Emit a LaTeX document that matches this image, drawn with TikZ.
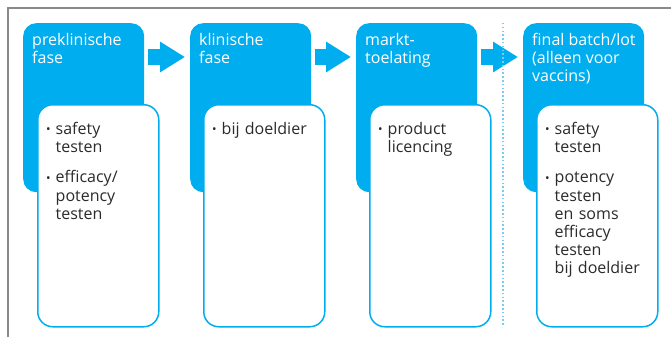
\documentclass[tikz,border=0pt]{standalone}
\usepackage{xcolor}
\usepackage{fontspec}
\setmainfont{Open Sans}
\usepackage{tikz}
\usetikzlibrary{arrows.meta}
\definecolor{rijksblue}{HTML}{00AEEF}
\definecolor{dotblue}{HTML}{7FCBEF}
\definecolor{framegray}{HTML}{8A8A8A}
\definecolor{inktext}{HTML}{2B2B2B}
\newcommand{\pnt}[1]{\par\hangindent=9.5pt\hangafter=1\noindent\makebox[9.5pt][l]{\raisebox{0.5pt}{\fontsize{12}{12}\selectfont\textbullet}}#1\par}

\begin{document}
\begin{tikzpicture}[x=1pt, y=-1pt]
\tikzstyle{phase}=[rectangle, fill=rijksblue, rounded corners=13pt, minimum width=121pt, minimum height=169pt, anchor=north west, inner sep=0pt]
\tikzstyle{card}=[rectangle, draw=rijksblue, fill=white, line width=1.5pt, rounded corners=15pt, minimum width=121pt, minimum height=222pt, anchor=north west, inner sep=0pt]
\tikzstyle{title}=[anchor=north west, inner sep=0pt, align=left, text=white, font=\fontsize{16}{18}\selectfont]
\tikzstyle{items}=[anchor=north west, inner sep=0pt, text width=108pt, align=left, text=inktext, font=\fontsize{16}{18.2}\selectfont]
\tikzstyle{flow}=[draw=rijksblue, line width=15pt, -{Triangle[length=25pt, width=29pt]}]
\useasboundingbox (0,0) rectangle (671,337);
% frame
\draw[framegray, line width=1.3pt] (8,337) -- (8,8) -- (671,8);
% phases
\node[phase] (b1) at (23,23) {};
\node[phase] (b2) at (190,23) {};
\node[phase] (b3) at (356,23) {};
\node[phase] (b4) at (523,23) {};
\node[title] (h1) at ([shift={(9pt,-10pt)}]b1.north west) {preklinische\\fase};
\node[title] (h2) at ([shift={(9pt,-10pt)}]b2.north west) {klinische\\fase};
\node[title] (h3) at ([shift={(9pt,-10pt)}]b3.north west) {markt-\\toelating};
\node[title] (h4) at ([shift={(9pt,-10pt)}]b4.north west) {final batch/lot\\(alleen voor\\vaccins)};
\node[card] (w1) at (37,104) {};
\node[card] (w2) at (203,104) {};
\node[card] (w3) at (369,104) {};
\node[card] (w4) at (536,104) {};
\node[items] (t1) at ([shift={(9pt,-12pt)}]w1.north west) {\pnt{safety\newline testen}\vspace{12pt}\pnt{efficacy/\newline potency\newline testen}};
\node[items] (t2) at ([shift={(9pt,-12pt)}]w2.north west) {\pnt{bij doeldier}};
\node[items] (t3) at ([shift={(9pt,-12pt)}]w3.north west) {\pnt{product\newline licencing}};
\node[items] (t4) at ([shift={(9pt,-12pt)}]w4.north west) {\pnt{safety\newline testen}\vspace{12pt}\pnt{potency\newline testen\newline en soms\newline efficacy\newline testen\newline bij doeldier}};
% arrows
\draw[flow] ([shift={(4pt,-34pt)}]b1.north east) -- ([shift={(-5pt,-34pt)}]b2.north west);
\draw[flow] ([shift={(4pt,-34pt)}]b2.north east) -- ([shift={(-5pt,-34pt)}]b3.north west);
\draw[flow] ([shift={(4pt,-34pt)}]b3.north east) -- ([shift={(-5pt,-34pt)}]b4.north west);
% divider
\draw[dotblue, line width=1.5pt, dash pattern=on 1.5pt off 2.3pt] (503,23) -- (503,325);
\end{tikzpicture}
\end{document}
